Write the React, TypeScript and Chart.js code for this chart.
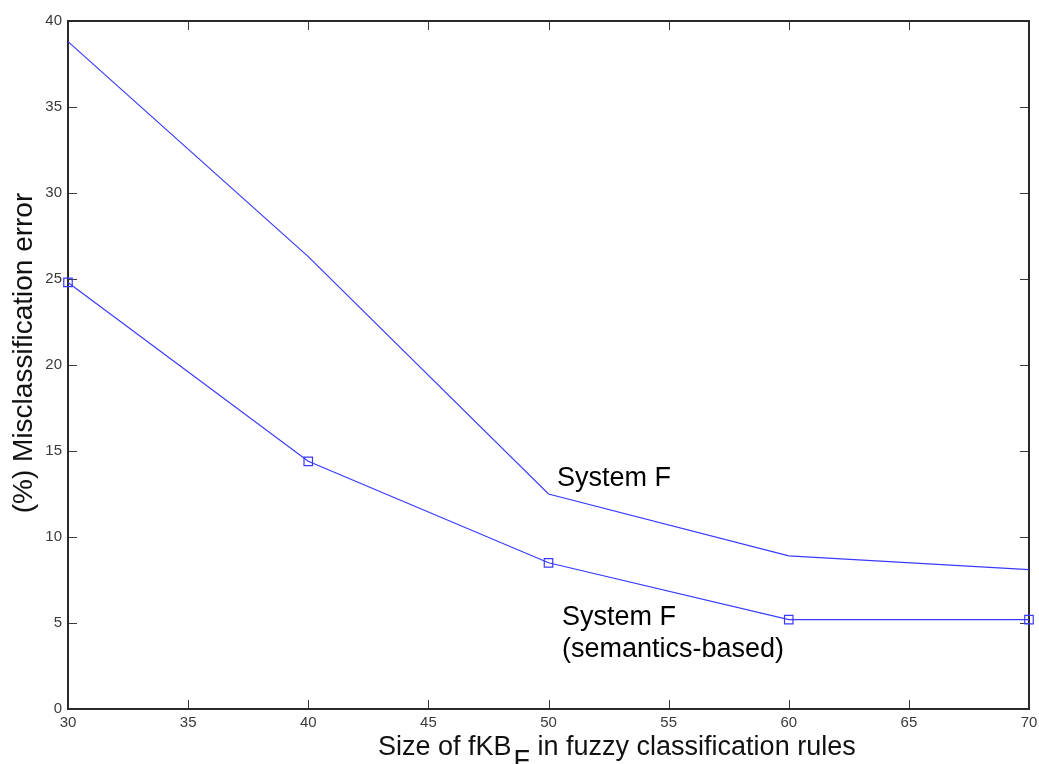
import React, { useEffect, useRef } from "react";
import { Chart, registerables } from "chart.js";

Chart.register(...registerables);

const xValues = [30, 40, 50, 60, 70];
const systemF = [38.8, 26.3, 12.5, 8.9, 8.1];
const systemFSemantics = [24.8, 14.4, 8.5, 5.2, 5.2];
const xTicks = [30, 35, 40, 45, 50, 55, 60, 65, 70];
const yTicks = [0, 5, 10, 15, 20, 25, 30, 35, 40];
const xTitleMain = "Size of fKB";
const xTitleSub = "F";
const xTitleRest = " in fuzzy classification rules";
const yTitle = "(%) Misclassification error";
const labelUpper = "System F";
const labelLower1 = "System F";
const labelLower2 = "(semantics-based)";

const FONT = "'Liberation Sans', Arial, Helvetica, sans-serif";
const LINE = "#3a3aff";

const framePlugin = {
  id: "frame",
  beforeDatasetsDraw(chart: any) {
    const { ctx, chartArea } = chart;
    const { left, right, top, bottom } = chartArea;
    const xs = chart.scales.x;
    const ys = chart.scales.y;
    ctx.save();
    ctx.strokeStyle = "#3a3a3a";
    ctx.lineWidth = 1;
    const tl = 9;
    ctx.beginPath();
    for (const v of xTicks) {
      const px = Math.round(xs.getPixelForValue(v)) + 0.5;
      ctx.moveTo(px, bottom);
      ctx.lineTo(px, bottom - tl);
      ctx.moveTo(px, top);
      ctx.lineTo(px, top + tl);
    }
    for (const v of yTicks) {
      const py = Math.round(ys.getPixelForValue(v)) + 0.5;
      ctx.moveTo(left, py);
      ctx.lineTo(left + tl, py);
      ctx.moveTo(right, py);
      ctx.lineTo(right - tl, py);
    }
    ctx.stroke();
    ctx.strokeStyle = "#2a2a2a";
    ctx.lineWidth = 2;
    ctx.strokeRect(left, top, right - left, bottom - top);
    ctx.restore();
  },
  afterDraw(chart: any) {
    const { ctx } = chart;
    ctx.save();
    ctx.fillStyle = "#111";
    ctx.textBaseline = "alphabetic";
    ctx.textAlign = "left";
    // x title
    ctx.font = `27px ${FONT}`;
    let x = 378;
    const yb = 755;
    ctx.fillText(xTitleMain, x, yb);
    x += ctx.measureText(xTitleMain).width + 2;
    ctx.fillText(xTitleSub, x, yb + 14);
    x += ctx.measureText(xTitleSub).width;
    ctx.fillText(xTitleRest, x, yb);
    // y title
    ctx.save();
    ctx.translate(32, 353);
    ctx.rotate(-Math.PI / 2);
    ctx.font = `28px ${FONT}`;
    ctx.textAlign = "center";
    ctx.fillText(yTitle, 0, 0);
    ctx.restore();
    // annotations
    ctx.font = `27px ${FONT}`;
    ctx.fillStyle = "#000";
    ctx.fillText(labelUpper, 557, 486);
    ctx.fillText(labelLower1, 562, 625);
    ctx.fillText(labelLower2, 562, 657);
    ctx.restore();
  },
};

export default function App() {
  const ref = useRef<HTMLCanvasElement | null>(null);
  useEffect(() => {
    document.body.style.margin = "0";
    if (!ref.current) return;
    const chart = new Chart(ref.current, {
      type: "line",
      data: {
        datasets: [
          {
            label: labelUpper,
            data: xValues.map((v, i) => ({ x: v, y: systemF[i] })),
            borderColor: LINE,
            borderWidth: 1.2,
            pointRadius: 0,
            tension: 0,
            clip: false as any,
          },
          {
            label: labelLower2,
            data: xValues.map((v, i) => ({ x: v, y: systemFSemantics[i] })),
            borderColor: LINE,
            borderWidth: 1.2,
            pointStyle: "rect",
            pointRadius: 6,
            pointBorderWidth: 1.2,
            pointBorderColor: LINE,
            pointBackgroundColor: "rgba(0,0,0,0)",
            tension: 0,
            clip: false as any,
          },
        ],
      },
      options: {
        responsive: false,
        animation: false,
        layout: { padding: { top: 21, right: 10, left: 0, bottom: 0 } },
        plugins: { legend: { display: false }, tooltip: { enabled: false } },
        scales: {
          x: {
            type: "linear",
            min: 30,
            max: 70,
            afterFit: (s: any) => {
              s.height = 55;
              s.paddingLeft = 0;
              s.paddingRight = 0;
            },
            afterBuildTicks: (s: any) => {
              s.ticks = xTicks.map((v) => ({ value: v }));
            },
            grid: { display: false, drawTicks: false },
            border: { display: false },
            ticks: {
              padding: 5,
              maxRotation: 0,
              autoSkip: false,
              color: "#3a3a3a",
              font: { family: FONT, size: 15 },
            },
          },
          y: {
            type: "linear",
            min: 0,
            max: 40,
            afterFit: (s: any) => {
              s.width = 68;
              s.paddingTop = 0;
              s.paddingBottom = 0;
            },
            afterBuildTicks: (s: any) => {
              s.ticks = yTicks.map((v) => ({ value: v }));
            },
            grid: { display: false, drawTicks: false },
            border: { display: false },
            ticks: {
              padding: 6,
              autoSkip: false,
              color: "#3a3a3a",
              font: { family: FONT, size: 15 },
            },
          },
        },
      },
      plugins: [framePlugin],
    });
    return () => chart.destroy();
  }, []);
  return (
    <div style={{ position: "absolute", left: 0, top: 0, width: 1039, height: 764, background: "#fff" }}>
      <canvas ref={ref} width={1039} height={764} style={{ display: "block" }} />
    </div>
  );
}
